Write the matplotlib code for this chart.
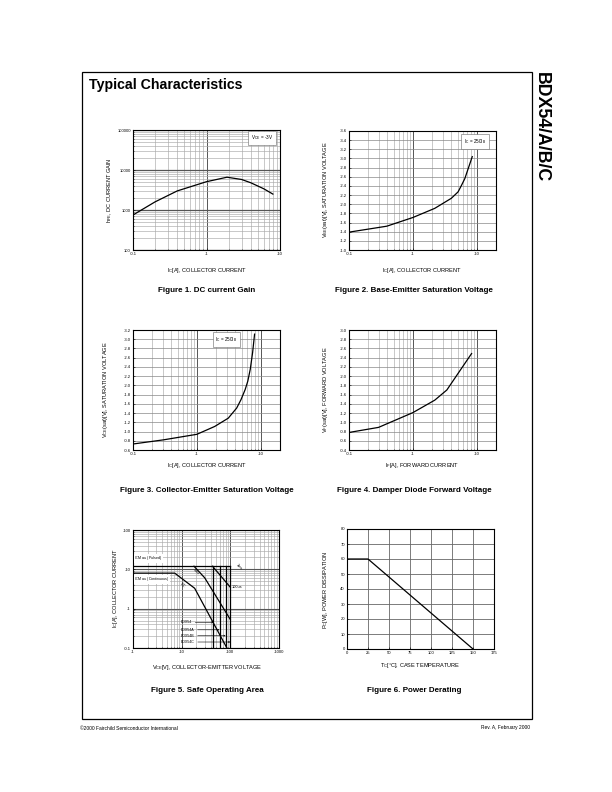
import matplotlib
matplotlib.use('Agg')
import matplotlib.pyplot as plt
from matplotlib.patches import Rectangle
from matplotlib.ticker import LogLocator, NullFormatter

plt.rcParams['font.family'] = ['Liberation Sans', 'DejaVu Sans']
plt.rcParams['mathtext.fontset'] = 'custom'
plt.rcParams['mathtext.rm'] = 'Liberation Sans'
plt.rcParams['mathtext.it'] = 'Liberation Sans:italic'
plt.rcParams['mathtext.bf'] = 'Liberation Sans:bold'
plt.rcParams['mathtext.default'] = 'regular'

W, H = 612, 792

# Figure 1: DC current gain
ic_gain = [0.1, 0.2, 0.4, 1, 1.9, 3, 4, 6, 8]
hfe = [750, 1600, 3000, 5100, 6600, 5800, 4800, 3400, 2500]

# Figure 2: base-emitter saturation voltage
ic_vbe = [0.1, 0.39, 1, 2.2, 4.0, 5.1, 5.8, 6.5, 8.5]
vbe_sat = [-1.39, -1.52, -1.71, -1.91, -2.13, -2.27, -2.42, -2.56, -3.04]

# Figure 3: collector-emitter saturation voltage
ic_vce = [0.1, 0.3, 1, 1.9, 3.1, 4.2, 4.9, 5.7, 6.26, 6.85, 7.45, 8.0]
vce_sat = [-0.73, -0.82, -0.94, -1.11, -1.29, -1.51, -1.69, -1.91, -2.09, -2.35, -2.71, -3.11]

# Figure 4: damper diode forward voltage
if_fwd = [0.1, 0.29, 1, 2.2, 3.4, 5.1, 8.3]
vf = [-0.78, -0.89, -1.21, -1.48, -1.70, -2.06, -2.49]

# Figure 5: safe operating area
pulsed_v = [1, 100]
pulsed_i = [12, 12]
dc_v = [1, 7.2, 18.5, 85]
dc_i = [8, 8, 3.3, 0.1]
ms_v = [17.9, 29.7, 100]
ms_i = [12, 6.1, 0.53]
us_v = [43, 100]
us_i = [12, 3.5]
bvceo = [45, 60, 80, 100]
parts = ['BDX54', 'BDX54A', 'BDX54B', 'BDX54C']

# Figure 6: power derating
tc = [0, 25, 150]
pc = [60, 60, 0]

fig = plt.figure(figsize=(W / 100, H / 100), dpi=100)


def add_ax(l, t, r, b):
    return fig.add_axes([l / W, 1 - b / H, (r - l) / W, (b - t) / H])


def ftext(x, y, s, **kw):
    fig.text(x / W, 1 - y / H, s, **kw)


def style(ax):
    ax.tick_params(which='both', direction='in', labelsize=3, pad=1.5,
                   length=1.5, width=0.4, top=False, right=False)
    ax.tick_params(which='minor', length=1)
    for s in ax.spines.values():
        s.set_linewidth(0.8)
    ax.set_axisbelow(True)


def log_x(ax, lo, hi, ticks, labels):
    ax.set_xscale('log')
    ax.set_xlim(lo, hi)
    ax.set_xticks(ticks)
    ax.set_xticklabels(labels)
    ax.xaxis.set_minor_locator(LogLocator(subs=range(2, 10)))
    ax.xaxis.set_minor_formatter(NullFormatter())
    ax.grid(which='major', axis='x', color='#555555', lw=0.7)
    ax.grid(which='minor', axis='x', color='#aaaaaa', lw=0.45)


def lin_y(ax, lo, hi, step):
    n = int(round(abs(hi - lo) / step))
    ticks = [lo - i * step for i in range(n + 1)]
    ax.set_ylim(lo, hi)
    ax.set_yticks(ticks)
    ax.set_yticklabels(['%.1f' % t for t in ticks])
    ax.grid(which='major', axis='y', color='#888888', lw=0.5)


box = dict(facecolor='white', edgecolor='#666666', lw=0.4, boxstyle='square,pad=0.6')

# ---- Figure 1
ax1 = add_ax(133, 130, 280, 250)
style(ax1)
log_x(ax1, 0.1, 10, [0.1, 1, 10], ['-0.1', '-1', '-10'])
ax1.set_yscale('log')
ax1.set_ylim(100, 100000)
ax1.set_yticks([100, 1000, 10000, 100000])
ax1.set_yticklabels(['100', '1000', '10000', '100000'])
ax1.yaxis.set_minor_locator(LogLocator(subs=range(2, 10)))
ax1.yaxis.set_minor_formatter(NullFormatter())
ax1.grid(which='major', axis='y', color='#555555', lw=0.9)
ax1.grid(which='minor', axis='y', color='#aaaaaa', lw=0.45)
ax1.plot(ic_gain, hfe, color='k', lw=0.9)
ftext(262, 138, 'V$_{CE}$ = -3V', fontsize=3.3, ha='center', va='center', bbox=box)

# ---- Figure 2
ax2 = add_ax(349, 131, 496, 250)
style(ax2)
log_x(ax2, 0.1, 20, [0.1, 1, 10], ['-0.1', '-1', '-10'])
lin_y(ax2, -1.0, -3.6, 0.2)
ax2.plot(ic_vbe, vbe_sat, color='k', lw=0.9)
ftext(475, 141.5, 'I$_C$ = 250I$_B$', fontsize=3.3, ha='center', va='center', bbox=box)

# ---- Figure 3
ax3 = add_ax(133, 330, 280, 450)
style(ax3)
log_x(ax3, 0.1, 20, [0.1, 1, 10], ['-0.1', '-1', '-10'])
lin_y(ax3, -0.6, -3.2, 0.2)
ax3.plot(ic_vce, vce_sat, color='k', lw=0.9)
ftext(226.5, 339.5, 'I$_C$ = 250I$_B$', fontsize=3.3, ha='center', va='center', bbox=box)

# ---- Figure 4
ax4 = add_ax(349, 330, 496, 450)
style(ax4)
log_x(ax4, 0.1, 20, [0.1, 1, 10], ['-0.1', '-1', '-10'])
lin_y(ax4, -0.4, -3.0, 0.2)
ax4.plot(if_fwd, vf, color='k', lw=0.9)

# ---- Figure 5
ax5 = add_ax(133, 530, 279, 648)
style(ax5)
log_x(ax5, 1, 1000, [1, 10, 100, 1000], ['-1', '-10', '-100', '-1000'])
ax5.set_yscale('log')
ax5.set_ylim(0.1, 100)
ax5.set_yticks([0.1, 1, 10, 100])
ax5.set_yticklabels(['-0.1', '-1', '-10', '-100'])
ax5.yaxis.set_minor_locator(LogLocator(subs=range(2, 10)))
ax5.yaxis.set_minor_formatter(NullFormatter())
ax5.grid(which='major', axis='y', color='#555555', lw=0.8)
ax5.grid(which='minor', axis='y', color='#aaaaaa', lw=0.45)
ax5.plot(pulsed_v, pulsed_i, color='k', lw=0.9)
ax5.plot(dc_v, dc_i, color='k', lw=0.9)
ax5.plot(ms_v, ms_i, color='k', lw=0.9)
ax5.plot(us_v, us_i, color='k', lw=0.9)
for v in bvceo:
    ax5.plot([v, v], [0.1, 12], color='k', lw=0.9)
ax5.text(1.05, 15, 'I$_C$ Max. (Pulsed)', fontsize=2.6, va='bottom', ha='left',
         bbox=dict(facecolor='white', edgecolor='none', pad=0.3))
ax5.text(1.05, 7.0, 'I$_C$ Max. (Continuous)', fontsize=2.6, va='top', ha='left',
         bbox=dict(facecolor='white', edgecolor='none', pad=0.3))
ax5.text(10.5, 3.9, 'DC', fontsize=2.8, rotation=-45, ha='center', va='center')
ax5.text(19.5, 8.4, '5ms', fontsize=2.8, rotation=-45, ha='center', va='center')
ax5.text(150, 11.5, '1ms', fontsize=2.8, rotation=-45, ha='center', va='center')
ax5.text(108, 3.5, '100us', fontsize=2.8, ha='left', va='center')
lab_i = [0.45, 0.29, 0.205, 0.142]
for name, v, li in zip(parts, bvceo, lab_i):
    ax5.annotate(name, xy=(v, li), xytext=(9.8, li), fontsize=2.6, ha='left', va='center',
                 arrowprops=dict(arrowstyle='->', lw=0.4, color='k', shrinkA=0, shrinkB=0))

# ---- Figure 6
ax6 = add_ax(347, 529, 494, 649)
style(ax6)
ax6.set_xlim(0, 175)
ax6.set_ylim(0, 80)
ax6.set_xticks(range(0, 176, 25))
ax6.set_yticks(range(0, 81, 10))
ax6.grid(which='major', color='#666666', lw=0.6)
ax6.plot(tc, pc, color='k', lw=0.9)

# axis labels
lab = dict(fontsize=4.1, ha='center', va='center')
ftext(207, 270.5, 'I$_C$[A], COLLECTOR CURRENT', **lab)
ftext(422, 270.5, 'I$_C$[A], COLLECTOR CURRENT', **lab)
ftext(207, 465.5, 'I$_C$[A], COLLECTOR CURRENT', **lab)
ftext(422, 465.5, 'I$_F$[A], FORWARD CURRENT', **lab)
ftext(207, 667.5, 'V$_{CE}$[V], COLLECTOR-EMITTER VOLTAGE', **lab)
ftext(420, 665.5, 'T$_C$[°C], CASE TEMPERATURE', **lab)
ftext(110, 190, 'h$_{FE}$, DC CURRENT GAIN', rotation=90, **lab)
ftext(325, 190, 'V$_{BE}$(sat)[V], SATURATION VOLTAGE', rotation=90, **lab)
ftext(106, 390, 'V$_{CE}$(sat)[V], SATURATION VOLTAGE', rotation=90, **lab)
ftext(325, 390, 'V$_F$(sat)[V], FORWARD VOLTAGE', rotation=90, **lab)
ftext(115, 588, 'I$_C$[A], COLLECTOR CURRENT', rotation=90, **lab)
ftext(325, 590, 'P$_C$[W], POWER DISSIPATION', rotation=90, **lab)

# captions
cap = dict(fontsize=5.8, fontweight='bold', ha='center', va='center')
ftext(207, 291, 'Figure 1. DC current Gain', **cap)
ftext(414, 291, 'Figure 2. Base-Emitter Saturation Voltage', **cap)
ftext(207, 491, 'Figure 3. Collector-Emitter Saturation Voltage', **cap)
ftext(414, 491, 'Figure 4. Damper Diode Forward Voltage', **cap)
ftext(207, 690, 'Figure 5. Safe Operating Area', **cap)
ftext(414, 690, 'Figure 6. Power Derating', **cap)

# page frame, title, side label, footer
fig.patches.append(Rectangle((82 / W, 1 - 719 / H), 450 / W, 647 / H, transform=fig.transFigure,
                             fill=False, edgecolor='k', lw=0.9))
ftext(89, 85, 'Typical Characteristics', fontsize=10.2, fontweight='bold', ha='left', va='center')
ftext(541, 72, 'BDX54/A/B/C', fontsize=12.8, fontweight='bold', rotation=-90, ha='center', va='top')
ftext(80, 728, '©2000 Fairchild Semiconductor International', fontsize=3.5, ha='left', va='center')
ftext(530, 728, 'Rev. A, February 2000', fontsize=3.5, ha='right', va='center')

fig.savefig('out.png', dpi=100)
